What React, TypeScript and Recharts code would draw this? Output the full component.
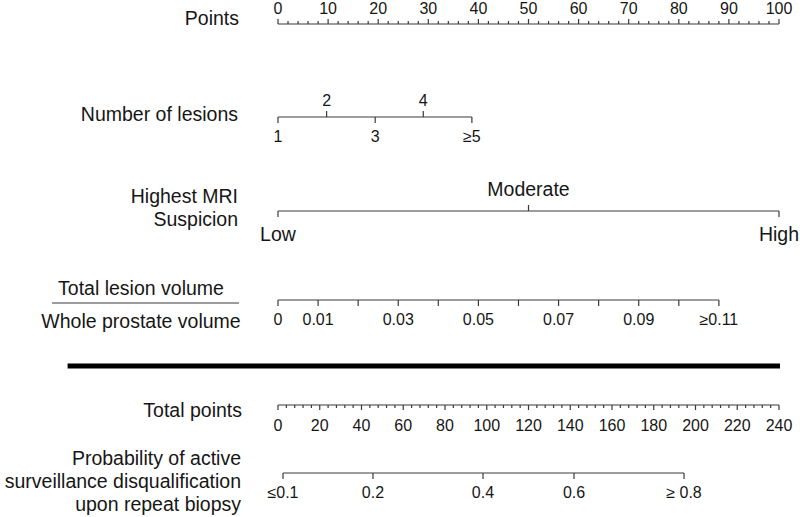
import { ComposedChart, XAxis, YAxis, Scatter, ReferenceLine } from 'recharts'

// values
const pointsLabels = [0, 10, 20, 30, 40, 50, 60, 70, 80, 90, 100]
const lesionCategories = ['1', '2', '3', '4', '≥5']
const lesionPoints = [0, 9.7, 19.4, 29.0, 38.7]
const mriCategories = ['Low', 'Moderate', 'High']
const mriPoints = [0, 50, 100]
const volumeRatios = ['0', '0.01', '0.02', '0.03', '0.04', '0.05', '0.06', '0.07', '0.08', '0.09', '0.10', '≥0.11']
const volumeLabelled = ['0', '0.01', '0.03', '0.05', '0.07', '0.09', '≥0.11']
const volumePoints = [0, 8, 16, 24, 32, 40, 48, 56, 64, 72, 80, 88]
const totalLabels = [0, 20, 40, 60, 80, 100, 120, 140, 160, 180, 200, 220, 240]
const probCategories = ['≤0.1', '0.2', '0.4', '0.6', '≥ 0.8']
const probTotalPoints = [2.4, 45.5, 98.2, 141.8, 194.5]

const FONT = '"Liberation Sans", Arial, Helvetica, sans-serif'
const INK = '#161616'
const LINE = '#3a3a3a'
const TICK_FS = 16
const TITLE_FS = 19.5

// row layout (pixel rows)
const ROW_Y = { points: 24, lesions: 117, mri: 211, volume: 300, total: 405, prob: 473 }

type Mark = { x: number; y: number; side: number; len: number; label: string; gap: number; size: number }

const pointsMarks: Mark[] = []
for (let v = 0; v <= 100; v += 2) {
  const major = pointsLabels.includes(v)
  pointsMarks.push({ x: v, y: ROW_Y.points, side: -1, len: major ? 5 : 3, label: major ? String(v) : '', gap: -16, size: TICK_FS })
}

const lesionMarks: Mark[] = lesionCategories.map((c, i) => ({
  x: lesionPoints[i], y: ROW_Y.lesions, side: i % 2 ? -1 : 1, len: 6, label: c, gap: i % 2 ? -17 : 19, size: TICK_FS,
}))

const mriMarks: Mark[] = mriCategories.map((c, i) => ({
  x: mriPoints[i], y: ROW_Y.mri, side: i === 1 ? -1 : 1, len: 6, label: c, gap: i === 1 ? -22 : 23, size: TITLE_FS,
}))

const volumeMarks: Mark[] = volumeRatios.map((r, i) => ({
  x: volumePoints[i], y: ROW_Y.volume, side: 1, len: 6, label: volumeLabelled.includes(r) ? r : '', gap: 19, size: TICK_FS,
}))

const totalMarks: Mark[] = []
for (let v = 0; v <= 240; v += 4) {
  const major = totalLabels.includes(v)
  totalMarks.push({ x: v, y: ROW_Y.total, side: 1, len: major ? 5 : 3, label: major ? String(v) : '', gap: 20, size: TICK_FS })
}

const probMarks: Mark[] = probCategories.map((c, i) => ({
  x: probTotalPoints[i], y: ROW_Y.prob, side: 1, len: 6, label: c, gap: 19, size: TICK_FS,
}))

type Title = { x: number; y: number; lines: string[]; dx: number; fraction?: boolean }
const titles: Title[] = [
  { x: 0, y: 17.5, lines: ['Points'], dx: -39 },
  { x: 0, y: 114, lines: ['Number of lesions'], dx: -40 },
  { x: 0, y: 196, lines: ['Highest MRI', 'Suspicion'], dx: -40 },
  { x: 0, y: 288, lines: ['Total lesion volume', 'Whole prostate volume'], dx: -137, fraction: true },
  { x: 0, y: 410, lines: ['Total points'], dx: -36 },
  { x: 0, y: 458, lines: ['Probability of active', 'surveillance disqualification', 'upon repeat biopsy'], dx: -37 },
]

const TickMark = (props: any) => {
  const { cx, cy, payload } = props
  const p = payload as Mark
  return (
    <g>
      <line x1={cx} y1={cy} x2={cx} y2={cy + p.side * p.len} stroke={LINE} strokeWidth={1.2} />
      {p.label !== '' && (
        <text x={cx} y={cy + p.gap} textAnchor='middle' dominantBaseline='central' fontSize={p.size} fill={INK} fontFamily={FONT}>
          {p.label}
        </text>
      )}
    </g>
  )
}

const TitleText = (props: any) => {
  const { cx, cy, payload } = props
  const t = payload as Title
  if (t.fraction) {
    return (
      <g fontFamily={FONT} fontSize={TITLE_FS} fill={INK}>
        <text x={cx + t.dx} y={cy} textAnchor='middle' dominantBaseline='central'>{t.lines[0]}</text>
        <line x1={cx + t.dx - 89} x2={cx + t.dx + 98} y1={cy + 15} y2={cy + 15} stroke={LINE} strokeWidth={1.2} />
        <text x={cx + t.dx} y={cy + 33} textAnchor='middle' dominantBaseline='central'>{t.lines[1]}</text>
      </g>
    )
  }
  return (
    <g fontFamily={FONT} fontSize={TITLE_FS} fill={INK}>
      {t.lines.map((l, i) => (
        <text key={l} x={cx + t.dx} y={cy + i * 23} textAnchor='end' dominantBaseline='central'>{l}</text>
      ))}
    </g>
  )
}

const seg = (a: number, b: number, y: number) => [{ x: a, y }, { x: b, y }]

const App = (): JSX.Element => (
  <div style={{ width: 800, height: 517, background: '#fff' }}>
    <style>{'body{margin:0}'}</style>
    <ComposedChart width={800} height={517} margin={{ top: 0, right: 21, bottom: 0, left: 278 }}>
      <XAxis xAxisId='pts' dataKey='x' type='number' domain={[0, 100]} hide />
      <XAxis xAxisId='tot' dataKey='x' type='number' domain={[0, 240]} hide />
      <YAxis dataKey='y' type='number' domain={[0, 517]} reversed hide />

      <ReferenceLine xAxisId='pts' segment={seg(0, 100, ROW_Y.points)} stroke={LINE} strokeWidth={1.2} />
      <ReferenceLine xAxisId='pts' segment={seg(lesionPoints[0], lesionPoints[4], ROW_Y.lesions)} stroke={LINE} strokeWidth={1.2} />
      <ReferenceLine xAxisId='pts' segment={seg(mriPoints[0], mriPoints[2], ROW_Y.mri)} stroke={LINE} strokeWidth={1.2} />
      <ReferenceLine xAxisId='pts' segment={seg(volumePoints[0], volumePoints[11], ROW_Y.volume)} stroke={LINE} strokeWidth={1.2} />
      <ReferenceLine xAxisId='pts' segment={seg(-42, 100.2, 366)} stroke='#000' strokeWidth={5} ifOverflow='visible' />
      <ReferenceLine xAxisId='tot' segment={seg(0, 240, ROW_Y.total)} stroke={LINE} strokeWidth={1.2} />
      <ReferenceLine xAxisId='tot' segment={seg(probTotalPoints[0], probTotalPoints[4], ROW_Y.prob)} stroke={LINE} strokeWidth={1.2} />

      <Scatter xAxisId='pts' data={pointsMarks} shape={TickMark} isAnimationActive={false} />
      <Scatter xAxisId='pts' data={lesionMarks} shape={TickMark} isAnimationActive={false} />
      <Scatter xAxisId='pts' data={mriMarks} shape={TickMark} isAnimationActive={false} />
      <Scatter xAxisId='pts' data={volumeMarks} shape={TickMark} isAnimationActive={false} />
      <Scatter xAxisId='tot' data={totalMarks} shape={TickMark} isAnimationActive={false} />
      <Scatter xAxisId='tot' data={probMarks} shape={TickMark} isAnimationActive={false} />
      <Scatter xAxisId='pts' data={titles} shape={TitleText} isAnimationActive={false} />
    </ComposedChart>
  </div>
)

export default App
